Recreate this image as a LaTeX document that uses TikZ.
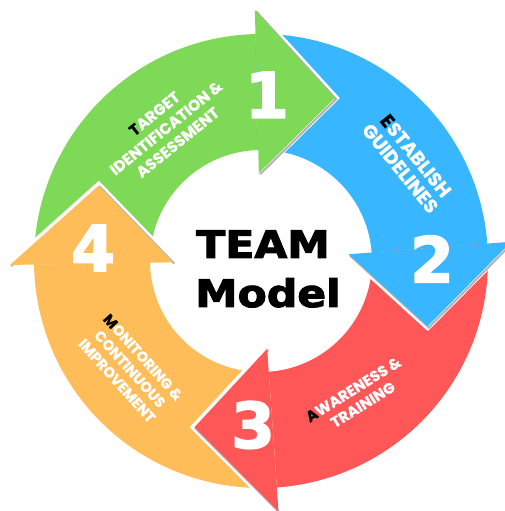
\documentclass[tikz,border=0pt]{standalone}
\usepackage{fontspec}
\newfontfamily\lblfont{Poppins}[BoldFeatures={FakeBold=0.6}]
\newfontfamily\heavyfont{DejaVu Sans}[BoldFeatures={FakeBold=2.5}]
\definecolor{teamgreen}{HTML}{7ED957}
\definecolor{teamblue}{HTML}{38B6FF}
\definecolor{teamred}{HTML}{FF5757}
\definecolor{teamorange}{HTML}{FFBD59}
\tikzset{
  lbl/.style 2 args={white, inner sep=0pt, align=center,
    font=\lblfont\bfseries\fontsize{#1}{#2}\selectfont},
  digit/.style={white, inner sep=0pt,
    font=\heavyfont\bfseries\fontsize{63}{63}\selectfont},
  title/.style={black, inner sep=0pt, anchor=base, xscale=1.12,
    font=\heavyfont\bfseries\fontsize{38}{40}\selectfont}
}
\begin{document}
\begin{tikzpicture}[x=1pt, y=1pt]
  \useasboundingbox (0, 0) rectangle (504, 511);

  %% кольцо
  \begin{scope}[shift={(261, 250)}]
    \foreach \col/\from/\to in {teamgreen/180.9/91.4, teamblue/91.4/4.4,
                                teamred/4.4/-86, teamorange/-86/-179.1}
      \fill[\col] (\from:227) arc[start angle=\from, end angle=\to, radius=227]
        -- (\to:111) arc[start angle=\to, end angle=\from, radius=111] -- cycle;

    %% стрелки
    \foreach \col/\b in {teamgreen/91.4, teamblue/4.4, teamred/-86, teamorange/180.9} {
      \draw[white, line width=7pt] (\b:251) -- ({\b-25.8}:179) -- (\b:88);
      \draw[black!30, line width=2pt, shift={(1.2, -1.2)}]
        (\b:251) -- ({\b-25.8}:179) -- (\b:88);
      \fill[\col] (\b:251) -- ({\b-25.8}:179) -- (\b:88) -- cycle;
    }
  \end{scope}

  \node[digit] (one) at (267, 416) {1};
  \node[digit] (two) at (432, 252) {2};
  \node[digit] (three) at (253, 86) {3};
  \node[digit] (four) at (93, 263) {4};

  \node[lbl={15.5}{18.5}, rotate=39] (target) at (166, 383)
    {\textcolor{black}{T}ARGET\\IDENTIFICATION \&\\ASSESSMENT};
  \node[lbl={19}{20}, rotate=-51] (establish) at (408, 349)
    {\textcolor{black}{E}STABLISH\\GUIDELINES};
  \node[lbl={15}{18}, rotate=32] (awareness) at (358, 114)
    {\textcolor{black}{A}WARENESS \&\\TRAINING};
  \node[lbl={14.5}{17.5}, rotate=-48] (monitoring) at (130, 142)
    {\textcolor{black}{M}ONITORING \&\\CONTINUOUS\\IMPROVEMENT};

  \node[title] (team) at (263, 253) {TEAM};
  \node[title] (model) at (268, 204) {Model};
\end{tikzpicture}
\end{document}
